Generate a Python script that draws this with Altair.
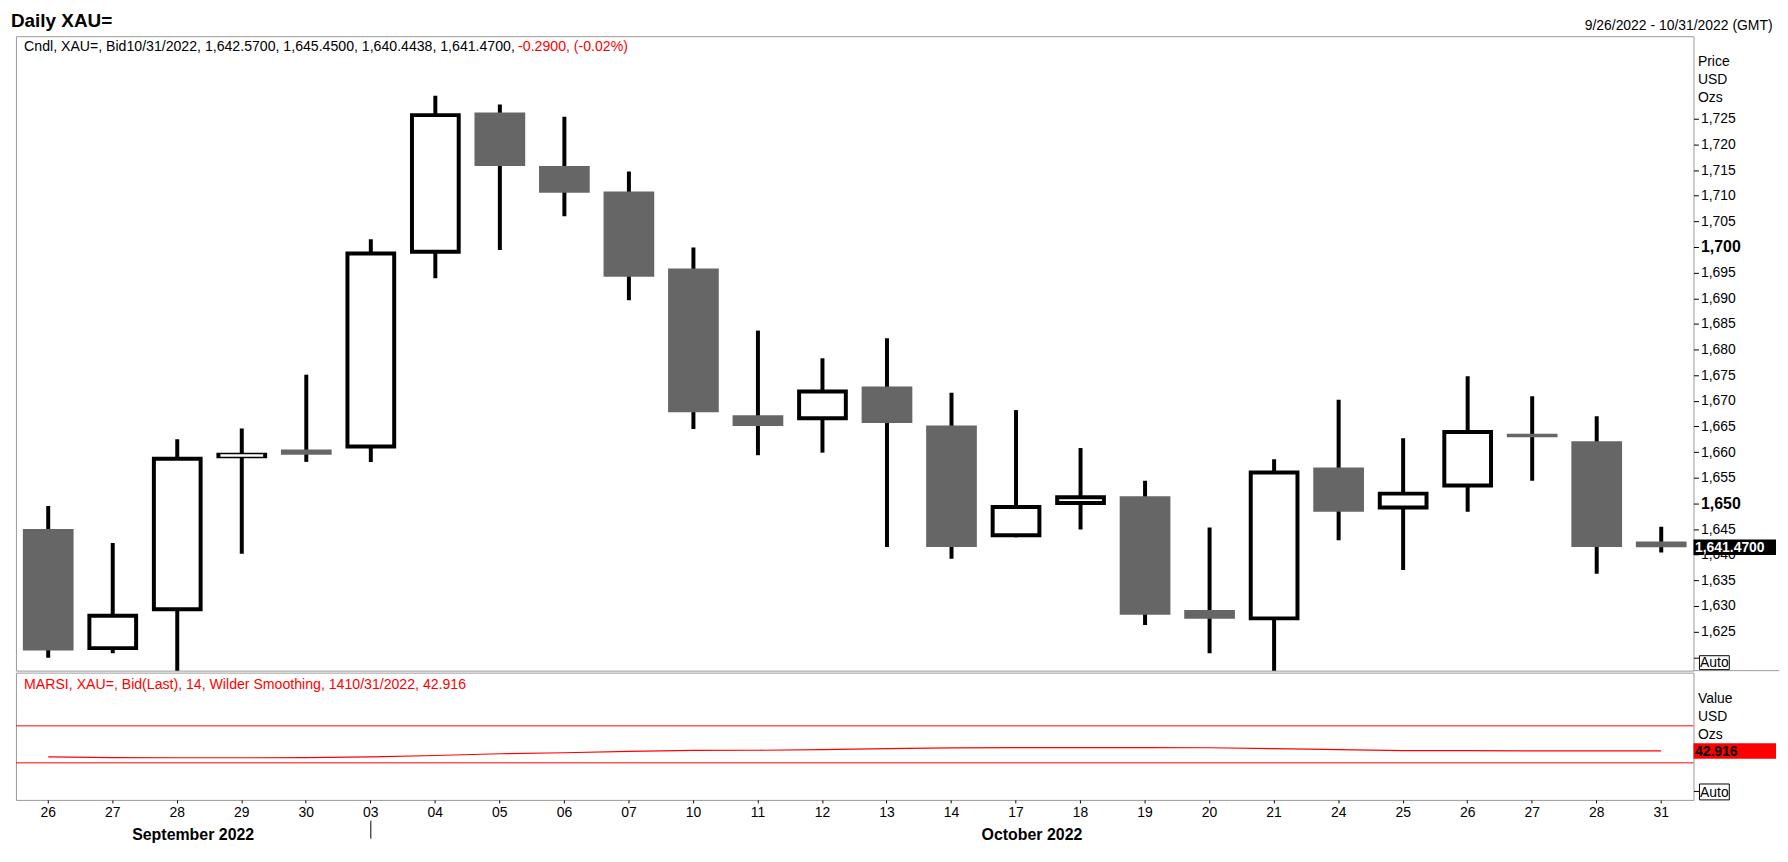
import altair as alt
import pandas as pd

# ---------------- data ----------------
dates = ["2022-09-26", "2022-09-27", "2022-09-28", "2022-09-29", "2022-09-30",
         "2022-10-03", "2022-10-04", "2022-10-05", "2022-10-06", "2022-10-07",
         "2022-10-10", "2022-10-11", "2022-10-12", "2022-10-13", "2022-10-14",
         "2022-10-17", "2022-10-18", "2022-10-19", "2022-10-20", "2022-10-21",
         "2022-10-24", "2022-10-25", "2022-10-26", "2022-10-27", "2022-10-28",
         "2022-10-31"]
opens = [1645.0, 1621.4, 1629.0, 1658.8, 1660.5, 1660.7, 1698.7, 1726.2, 1715.8, 1710.8,
         1695.8, 1667.2, 1666.2, 1672.8, 1665.2, 1643.4, 1649.7, 1651.4, 1629.2, 1627.2,
         1657.0, 1648.8, 1653.1, 1663.6, 1662.1, 1642.57]
highs = [1649.5, 1642.3, 1662.5, 1664.6, 1675.1, 1701.5, 1729.5, 1727.8, 1725.4, 1714.7,
         1699.9, 1683.7, 1678.3, 1682.2, 1671.6, 1668.2, 1660.8, 1654.4, 1645.3, 1658.6,
         1670.2, 1662.7, 1674.8, 1670.9, 1667.0, 1645.45]
lows = [1619.9, 1620.8, 1615.0, 1640.2, 1658.1, 1658.1, 1693.9, 1699.4, 1706.0, 1689.6,
        1664.5, 1659.4, 1659.9, 1641.5, 1639.2, 1643.4, 1644.9, 1626.3, 1620.8, 1617.0,
        1642.8, 1637.0, 1648.4, 1654.4, 1636.3, 1640.4438]
closes = [1621.3, 1628.5, 1659.1, 1659.9, 1659.5, 1699.1, 1726.1, 1715.8, 1710.6, 1694.2,
          1667.8, 1665.1, 1672.2, 1665.7, 1641.5, 1649.7, 1651.6, 1628.3, 1627.5, 1656.4,
          1648.4, 1652.3, 1664.3, 1662.9, 1641.5, 1641.47]
rsi = [36.5, 35.6, 35.5, 35.5, 35.6, 36.5, 37.9, 39.8, 40.9, 42.3,
       43.4, 43.6, 44.2, 45.3, 46.2, 46.4, 46.5, 46.4, 46.3, 45.3,
       44.2, 43.2, 43.1, 43.0, 42.95, 42.916]
rsi_levels = [70, 30]
price_ticks = list(range(1620, 1730, 5))
bold_ticks = [1700, 1650]
rsi_ticks = [0]

TITLE = "Daily XAU="
DATE_RANGE = "9/26/2022 - 10/31/2022 (GMT)"
HEADER_BLACK = "Cndl, XAU=, Bid10/31/2022, 1,642.5700, 1,645.4500, 1,640.4438, 1,641.4700,"
HEADER_RED = "-0.2900, (-0.02%)"
RSI_HEADER = "MARSI, XAU=, Bid(Last),  14, Wilder Smoothing, 1410/31/2022, 42.916"
PRICE_UNITS = ["Price", "USD", "Ozs"]
RSI_UNITS = ["Value", "USD", "Ozs"]
MONTH_NAMES = {"09": "September 2022", "10": "October 2022"}
AUTO = "Auto"

# ---------------- styling ----------------
W, H1, H2 = 1687, 638, 128
FONT = "Liberation Sans"
GRAY = "#666666"
RED = "#ff0000"
FRAME = "#999999"
PRICE_DOMAIN = [1617.4, 1741.1]
RSI_DOMAIN = [-10.1, 127.6]

df = pd.DataFrame(dict(date=dates, open=opens, high=highs, low=lows, close=closes, rsi=rsi))
last = df.iloc[[-1]].reset_index(drop=True)

# month labels (centred on the month's middle session) and month separator
months = []
for m, name in MONTH_NAMES.items():
    idx = [i for i, d in enumerate(dates) if d[5:7] == m]
    months.append({"date": dates[idx[len(idx) // 2]], "label": name, "first": dates[idx[0]]})
months_df = pd.DataFrame(months)
sep_df = months_df.iloc[1:]

xscale = alt.Scale(type="band", domain=dates, paddingInner=0, paddingOuter=0)
x_top = alt.X("date:O", scale=xscale, axis=None)
x_axis = alt.Axis(orient="bottom", labelExpr="substring(datum.value, 8, 10)", title=None,
                  domain=False, grid=False, ticks=True, tickSize=3, tickColor="black",
                  labelFont=FONT, labelFontSize=14, labelColor="black", labelPadding=3,
                  labelAngle=0, zindex=0)
x_bot = alt.X("date:O", scale=xscale, axis=x_axis)

price_scale = alt.Scale(domain=PRICE_DOMAIN, nice=False, zero=False)
bold_test = " || ".join(f"datum.value == {b}" for b in bold_ticks)
price_axis = alt.Axis(orient="right", values=price_ticks, title=None, grid=False, domain=False,
                      tickSize=5, tickColor="black", labelPadding=2, labelFont=FONT,
                      labelColor="black", zindex=0,
                      labelFontSize={"condition": {"test": bold_test, "value": 16}, "value": 14},
                      labelFontWeight={"condition": {"test": bold_test, "value": "bold"}, "value": "normal"},
                      labelExpr="datum.value == 1620 ? '' : format(datum.value, ',')",
                      labelOverlap=False, labelBound=False, labelFlush=False)
rsi_scale = alt.Scale(domain=RSI_DOMAIN, nice=False, zero=False)
rsi_axis = alt.Axis(orient="right", values=rsi_ticks, title=None, grid=False, domain=False,
                    tickSize=5, tickColor="black", labelExpr="''", zindex=0)


def one():
    return pd.DataFrame({"a": [0]})


def txt(s, x, y, size=14, weight="normal", color="black", align="left", baseline="alphabetic"):
    return alt.Chart(pd.DataFrame({"t": [s]})).mark_text(
        font=FONT, fontSize=size, fontWeight=weight, color=color, align=align, baseline=baseline
    ).encode(x=alt.value(x), y=alt.value(y), text="t:N")


def box(x1, x2, y1, y2, fill, stroke=None):
    kw = dict(fill=fill)
    if stroke:
        kw.update(stroke=stroke, strokeWidth=1)
    return alt.Chart(one()).mark_rect(**kw).encode(
        x=alt.value(x1), x2=alt.value(x2), y=alt.value(y1), y2=alt.value(y2))


# ---------------- price panel ----------------
base = alt.Chart(df).transform_calculate(
    top="max(datum.open, datum.close)", bot="min(datum.open, datum.close)")

wicks = base.mark_rule(color="black", strokeWidth=4, clip=True).encode(
    x=x_top, y=alt.Y("low:Q", scale=price_scale, axis=price_axis), y2="high:Q")
down = base.transform_filter("datum.close < datum.open").mark_bar(
    size=51, color=GRAY, clip=True).encode(
    x=x_top, y=alt.Y("top:Q", scale=price_scale, axis=price_axis), y2="bot:Q")
up_outer = base.transform_filter("datum.close >= datum.open").mark_bar(
    size=51, color="black", clip=True).encode(
    x=x_top, y=alt.Y("top:Q", scale=price_scale, axis=price_axis), y2="bot:Q")
up_inner = base.transform_filter("datum.close >= datum.open").mark_bar(
    size=43, color="white", yOffset=4, y2Offset=-4, clip=True).encode(
    x=x_top, y=alt.Y("top:Q", scale=price_scale, axis=price_axis), y2="bot:Q")

last_box = alt.Chart(last).mark_rect(color="black", yOffset=-7.8, y2Offset=7.8).encode(
    x=alt.value(W), x2=alt.value(W + 83),
    y=alt.Y("close:Q", scale=price_scale, axis=price_axis), y2="close:Q")
last_txt = alt.Chart(last).transform_calculate(lbl="format(datum.close, ',.4f')").mark_text(
    font=FONT, fontSize=14, fontWeight="bold", color="white", align="left", baseline="middle", dy=1
).encode(x=alt.value(W + 1.5), y=alt.Y("close:Q", scale=price_scale, axis=price_axis), text="lbl:N")

anchor = alt.Chart(one()).mark_rect(opacity=0).encode(
    x=alt.value(-7.5), x2=alt.value(0), y=alt.value(-25), y2=alt.value(0))
sep_right = alt.Chart(one()).mark_rule(color=FRAME, strokeWidth=1).encode(
    x=alt.value(W), x2=alt.value(W + 86), y=alt.value(H1))

top_layers = [anchor, wicks, down, up_outer, up_inner, last_box, last_txt, sep_right,
              txt(TITLE, -5, -9, size=19, weight="bold"),
              txt(DATE_RANGE, W + 79.5, -6.5, align="right"),
              txt(HEADER_BLACK, 8.2, 15.3, size=14.2),
              txt(HEADER_RED, 505, 15.3, size=14.2, color=RED),
              box(W + 6, W + 36, 623, 637, "white", "black"),
              txt(AUTO, W + 21, 634.3, align="center")]
for i, u in enumerate(PRICE_UNITS):
    top_layers.append(txt(u, W + 4.5, 30 + i * 18.2))

top = alt.layer(*top_layers).properties(width=W, height=H1)

# ---------------- RSI panel ----------------
levels = alt.Chart(pd.DataFrame({"lvl": rsi_levels})).mark_rule(color=RED, strokeWidth=1).encode(
    y=alt.Y("lvl:Q", scale=rsi_scale, axis=rsi_axis))
rsi_line = alt.Chart(df).mark_line(stroke=RED, color=RED, strokeWidth=1.2).encode(
    x=x_bot, y=alt.Y("rsi:Q", scale=rsi_scale, axis=rsi_axis))
rsi_box = alt.Chart(last).mark_rect(color=RED, yOffset=-7.8, y2Offset=7.8).encode(
    x=alt.value(W), x2=alt.value(W + 83),
    y=alt.Y("rsi:Q", scale=rsi_scale, axis=rsi_axis), y2="rsi:Q")
rsi_txt = alt.Chart(last).transform_calculate(lbl="format(datum.rsi, '.3f')").mark_text(
    font=FONT, fontSize=14, fontWeight="bold", color="black", align="left", baseline="middle", dy=1
).encode(x=alt.value(W + 1.5), y=alt.Y("rsi:Q", scale=rsi_scale, axis=rsi_axis), text="lbl:N")
month_txt = alt.Chart(months_df).mark_text(
    font=FONT, fontSize=16, fontWeight="bold", color="black", align="center", dx=16
).encode(x=x_bot, y=alt.value(163), text="label:N")
month_sep = alt.Chart(sep_df).mark_rule(color="black", strokeWidth=1).encode(
    x=alt.X("first:O", scale=xscale, axis=x_axis), y=alt.value(149), y2=alt.value(167))

bot_layers = [levels, rsi_line, rsi_box, rsi_txt, month_txt, month_sep,
              txt(RSI_HEADER, 8.2, 16, size=14.2, color=RED),
              box(W + 6, W + 36, 112, 128, "white", "black"),
              txt(AUTO, W + 21, 125.5, align="center")]
for i, u in enumerate(RSI_UNITS):
    bot_layers.append(txt(u, W + 4.5, 31 + i * 17.8))

bottom = alt.layer(*bot_layers).properties(width=W, height=H2)

chart = alt.vconcat(top, bottom, spacing=0).properties(
    padding={"left": 0, "top": 0, "right": 0, "bottom": 0}
).configure_view(stroke=FRAME, strokeWidth=1).configure_concat(spacing=0)

chart.save("out.html", embed_options={"renderer": "svg", "actions": False})
